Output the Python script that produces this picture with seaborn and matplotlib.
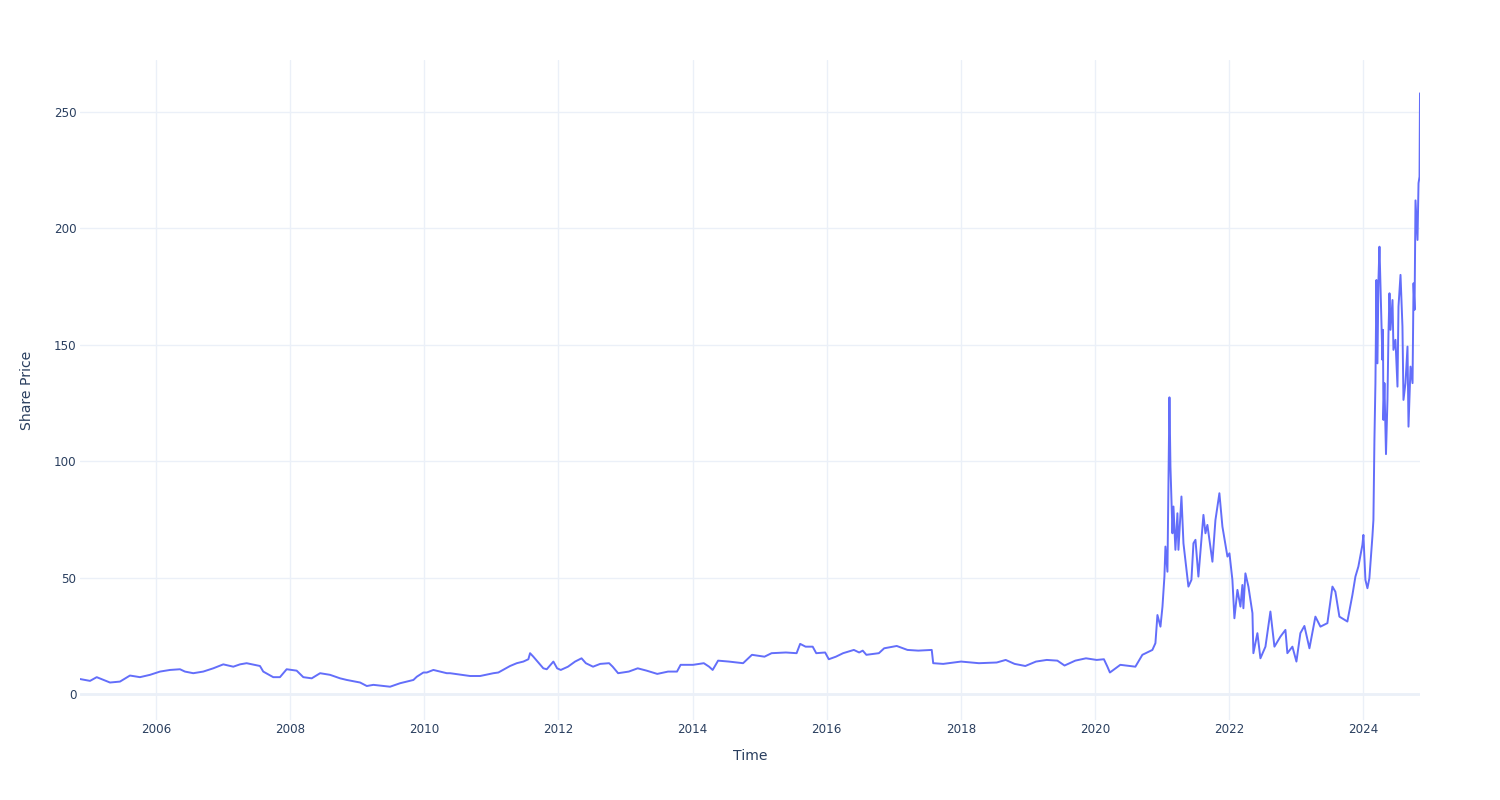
import numpy as np
import pandas as pd
import matplotlib
matplotlib.use("Agg")
import matplotlib.pyplot as plt
import matplotlib.dates as mdates
import seaborn as sns

# decimal years and share prices
years = [
    2004.867, 2005.016, 2005.116, 2005.314, 2005.463, 2005.612, 2005.761, 2005.911,
    2006.060, 2006.209, 2006.358, 2006.432, 2006.556, 2006.705, 2006.854, 2007.004,
    2007.153, 2007.253, 2007.352, 2007.551, 2007.600, 2007.749, 2007.849, 2007.949,
    2008.098, 2008.197, 2008.322, 2008.447, 2008.595, 2008.744, 2008.844, 2009.042,
    2009.142, 2009.240, 2009.489, 2009.639, 2009.837, 2009.888, 2009.986, 2010.037,
    2010.135, 2010.335, 2010.384, 2010.682, 2010.832, 2011.030, 2011.104, 2011.279,
    2011.379, 2011.477, 2011.552, 2011.577, 2011.626, 2011.775, 2011.826, 2011.925,
    2011.981, 2012.035, 2012.142, 2012.248, 2012.344, 2012.408, 2012.515, 2012.621,
    2012.754, 2012.807, 2012.888, 2013.047, 2013.180, 2013.313, 2013.472, 2013.633,
    2013.766, 2013.820, 2014.006, 2014.166, 2014.245, 2014.298, 2014.379, 2014.539,
    2014.752, 2014.884, 2015.071, 2015.177, 2015.390, 2015.550, 2015.603, 2015.684,
    2015.790, 2015.843, 2015.976, 2016.030, 2016.136, 2016.243, 2016.403, 2016.482,
    2016.535, 2016.589, 2016.775, 2016.854, 2017.041, 2017.201, 2017.362, 2017.563,
    2017.585, 2017.734, 2018.000, 2018.267, 2018.532, 2018.666, 2018.799, 2018.959,
    2019.118, 2019.278, 2019.437, 2019.544, 2019.704, 2019.864, 2020.023, 2020.131,
    2020.183, 2020.220, 2020.375, 2020.599, 2020.703, 2020.852, 2020.897, 2020.927,
    2020.972, 2021.002, 2021.031, 2021.046, 2021.076, 2021.106, 2021.121, 2021.151,
    2021.166, 2021.195, 2021.225, 2021.240, 2021.285, 2021.315, 2021.389, 2021.434,
    2021.464, 2021.494, 2021.538, 2021.613, 2021.643, 2021.672, 2021.747, 2021.792,
    2021.851, 2021.896, 2021.971, 2022.001, 2022.045, 2022.075, 2022.120, 2022.165,
    2022.194, 2022.209, 2022.239, 2022.284, 2022.344, 2022.358, 2022.418, 2022.463,
    2022.538, 2022.612, 2022.672, 2022.761, 2022.836, 2022.865, 2022.940, 2023.000,
    2023.059, 2023.119, 2023.194, 2023.283, 2023.358, 2023.462, 2023.537, 2023.581,
    2023.641, 2023.760, 2023.835, 2023.880, 2023.924, 2023.984, 2023.999, 2024.029,
    2024.059, 2024.088, 2024.133, 2024.148, 2024.163, 2024.178, 2024.193, 2024.208,
    2024.223, 2024.238, 2024.268, 2024.282, 2024.290, 2024.297, 2024.312, 2024.335,
    2024.357, 2024.372, 2024.387, 2024.402, 2024.432, 2024.446, 2024.476, 2024.506,
    2024.521, 2024.551, 2024.580, 2024.595, 2024.625, 2024.655, 2024.670, 2024.700,
    2024.730, 2024.745, 2024.760, 2024.774, 2024.804, 2024.819, 2024.834, 2024.841,
]
prices = [
    6.4, 5.6, 7.2, 4.9, 5.3, 7.9, 7.2, 8.2,
    9.6, 10.3, 10.6, 9.6, 8.9, 9.6, 11.0, 12.7,
    11.7, 12.7, 13.2, 12.0, 9.6, 7.2, 7.2, 10.6,
    10.0, 7.2, 6.7, 8.9, 8.2, 6.7, 6.0, 4.9,
    3.4, 3.9, 3.1, 4.6, 6.0, 7.4, 9.2, 9.2,
    10.3, 8.9, 8.9, 7.7, 7.7, 8.9, 9.2, 12.0,
    13.2, 13.9, 14.9, 17.5, 16.0, 11.0, 10.6, 13.9,
    11.0, 10.3, 11.7, 13.9, 15.3, 13.2, 11.7, 12.9,
    13.2, 11.7, 8.9, 9.6, 11.0, 10.0, 8.6, 9.6,
    9.6, 12.5, 12.5, 13.2, 11.7, 10.3, 14.3, 13.9,
    13.2, 16.8, 16.0, 17.5, 17.8, 17.5, 21.5, 20.3,
    20.3, 17.5, 17.8, 14.9, 16.0, 17.5, 18.9, 17.8,
    18.6, 16.8, 17.5, 19.6, 20.6, 18.9, 18.6, 18.9,
    13.2, 12.9, 13.9, 13.2, 13.5, 14.6, 12.9, 12.0,
    13.9, 14.6, 14.3, 12.2, 14.3, 15.3, 14.6, 14.9,
    11.7, 9.2, 12.5, 11.7, 16.8, 18.9, 21.8, 33.9,
    28.9, 37.5, 50.4, 63.3, 52.5, 127.4, 97.6, 69.0,
    80.5, 61.9, 77.6, 61.9, 84.8, 64.7, 46.1, 49.0,
    64.7, 66.2, 50.4, 76.9, 69.0, 72.6, 56.8, 74.7,
    86.2, 71.9, 59.0, 60.4, 49.0, 32.5, 44.7, 37.5,
    46.8, 36.8, 51.8, 46.1, 34.7, 17.5, 26.1, 15.3,
    20.3, 35.4, 20.3, 24.6, 27.5, 17.5, 20.3, 13.9,
    26.1, 29.2, 19.6, 33.2, 28.9, 30.4, 46.1, 43.9,
    33.2, 31.1, 42.5, 50.4, 54.7, 64.0, 68.3, 49.0,
    45.4, 49.7, 67.6, 74.7, 109.0, 133.5, 177.8, 142.0,
    177.8, 192.1, 157.8, 143.5, 156.4, 117.7, 133.5, 103.0,
    126.3, 154.9, 172.1, 156.4, 169.2, 147.8, 152.1, 132.0,
    166.4, 180.0, 157.8, 126.3, 133.5, 149.2, 114.8, 140.6,
    133.5, 176.4, 165.0, 212.0, 195.0, 219.4, 222.2, 258.0,
]
y_ticks = [0, 50, 100, 150, 200, 250]


def to_date(y):
    yr = int(np.floor(y))
    start = pd.Timestamp(yr, 1, 1)
    end = pd.Timestamp(yr + 1, 1, 1)
    return start + (end - start) * (y - yr)


df = pd.DataFrame({"Time": [to_date(y) for y in years], "Share Price": prices})

sns.set_theme(style="white")
plt.rcParams["font.family"] = ["DejaVu Sans"]

W, H = 1500, 800
fig = plt.figure(figsize=(15, 8), dpi=100)
ax = fig.add_axes([80 / W, 80 / H, 1340 / W, 660 / H])

grid_c = "#EBF0F8"
text_c = "#2a3f5f"

sns.lineplot(data=df, x="Time", y="Share Price", ax=ax, color="#636EFA",
             linewidth=1.4, zorder=3)

ax.set_xlim(df["Time"].min(), df["Time"].max())
ax.set_ylim(-11.2, 272.3)
ax.set_yticks(y_ticks)
ax.xaxis.set_major_locator(mdates.YearLocator(2))
ax.xaxis.set_major_formatter(mdates.DateFormatter("%Y"))

ax.grid(True, color=grid_c, linewidth=1, zorder=0)
ax.axhline(0, color=grid_c, linewidth=2, zorder=1)
ax.set_axisbelow(True)
for s in ax.spines.values():
    s.set_visible(False)

ax.tick_params(axis="both", length=0, labelsize=8.6, labelcolor=text_c)
ax.tick_params(axis="x", pad=2)
ax.tick_params(axis="y", pad=2.5)

ax.set_xlabel("Time", fontsize=10.1, color=text_c)
ax.set_ylabel("Share Price", fontsize=10.1, color=text_c)
ax.xaxis.label.set_va("center")
ax.yaxis.label.set_va("center")
ax.xaxis.set_label_coords(0.5, (720 - 756) / 660)
ax.yaxis.set_label_coords((27 - 80) / 1340, 0.5)

fig.savefig("out.png", dpi=100, facecolor="white")
